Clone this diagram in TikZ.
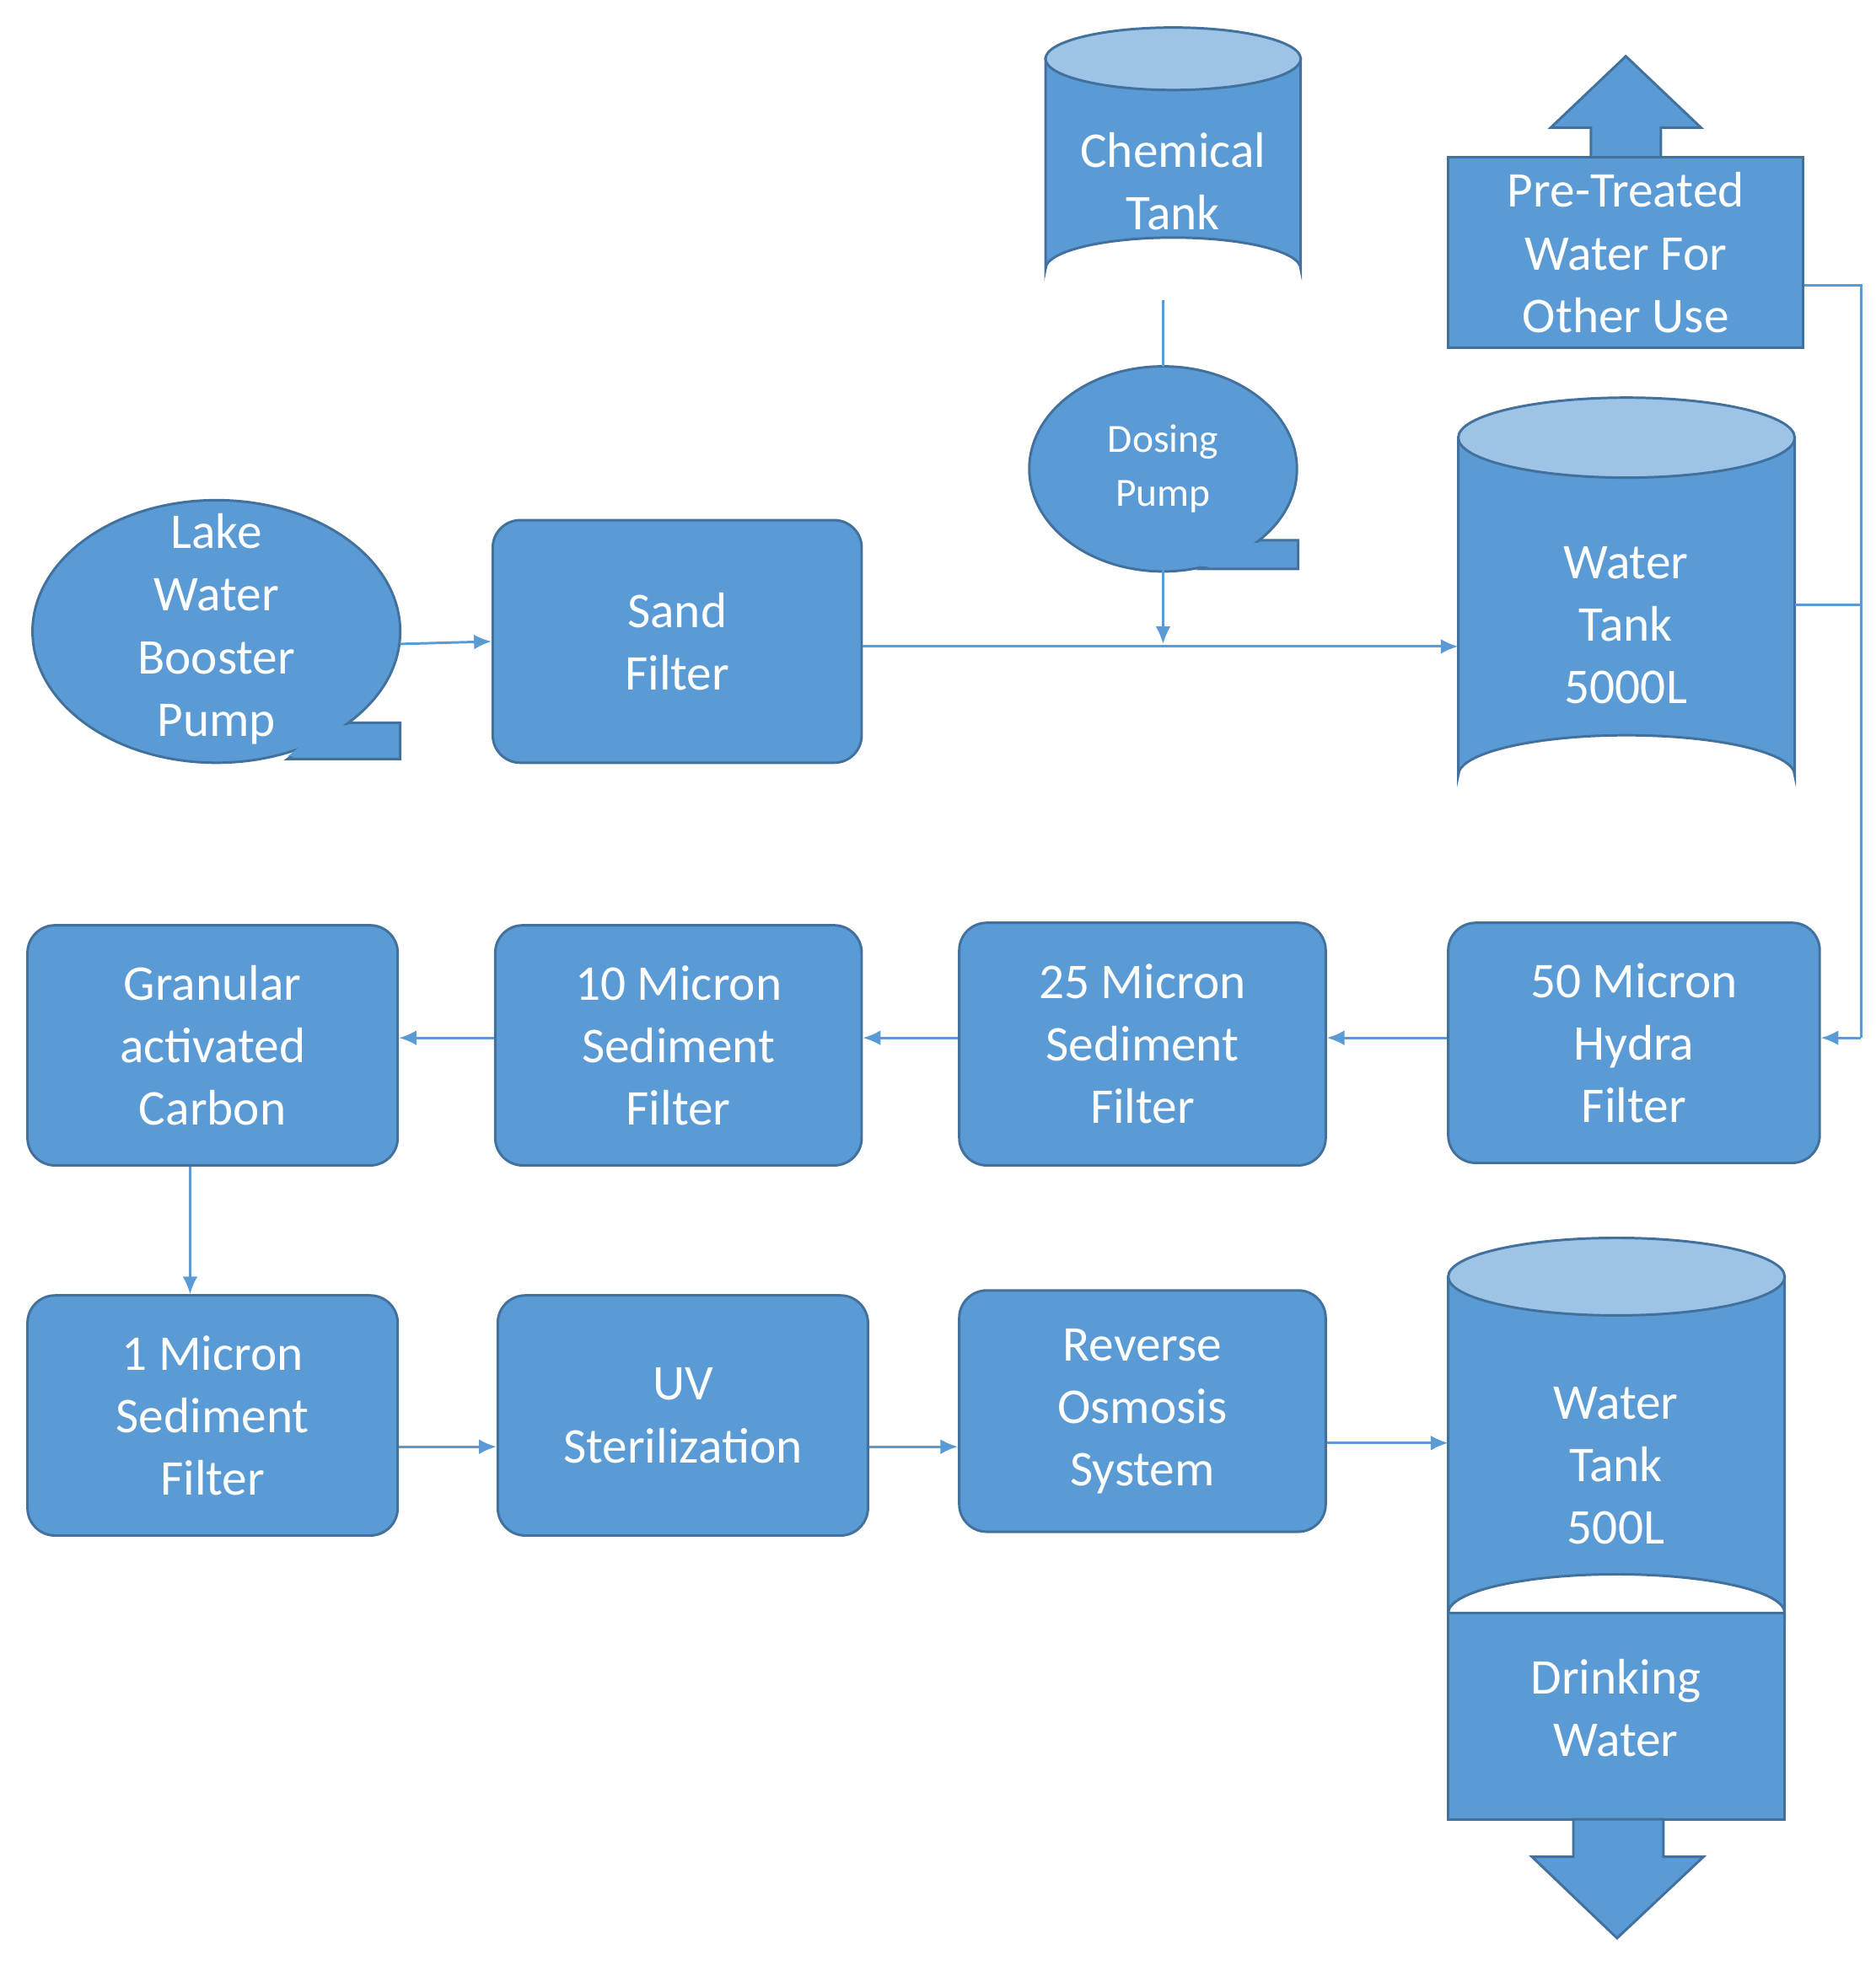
\documentclass[tikz,border=0pt]{standalone}
\usepackage{fontspec}
\setmainfont{Carlito}
\begin{document}
\begin{tikzpicture}[x=1pt,y=-1pt,
  fc/.style={fill={rgb,255:red,91;green,155;blue,213},draw={rgb,255:red,65;green,113;blue,156},line width=2pt},
  top/.style={fill={rgb,255:red,157;green,195;blue,230},draw={rgb,255:red,65;green,113;blue,156},line width=2pt},
  box/.style={fc,rounded corners=22pt,align=center,text=white,font=\fontsize{40}{50}\selectfont,inner sep=0pt},
  txt/.style={align=center,text=white,font=\fontsize{40}{50}\selectfont},
  ln/.style={draw={rgb,255:red,91;green,155;blue,213},line width=2pt},
  ar/.style={ln,-{Latex[length=14pt,width=12pt]}}]
\usetikzlibrary{arrows.meta}
\useasboundingbox (0,0) rectangle (1500,1571.5);
% Chemical tank
\path[fc] (836,47) -- (836,215) arc[start angle=180,end angle=360,x radius=102,y radius=25] -- (1040,47) -- cycle;
\path[top] (938,47) ellipse[x radius=102,y radius=25];
\node[txt] (chem) at (938,145) {Chemical\\Tank};
\coordinate (chemB) at (930,240);
% Pre-treated
\path[fc] (1272,126) -- (1272,102) -- (1240,102) -- (1300,45) -- (1360,102) -- (1328,102) -- (1328,126) -- cycle;
\node[fc,minimum width=284pt,minimum height=152pt,inner sep=0pt] (pre) at (1300,202) {};
\node[txt] at (pre) {Pre-Treated\\Water For\\Other Use};
% Water tank 5000
\path[fc] (1166,350) -- (1166,620) arc[start angle=180,end angle=360,x radius=134.5,y radius=32] -- (1435,350) -- cycle;
\path[top] (1300.5,350) ellipse[x radius=134.5,y radius=32];
\node[txt] (wt) at (1300,500) {Water\\Tank\\5000L};
\coordinate (wtL) at (1166,517);
\coordinate (wtR) at (1435,484);
% Dosing pump
\path[fc] (1000,432) -- (1038,432) -- (1038,455) -- (960,455) -- cycle;
\path[fc] (930,375) ellipse[x radius=107,y radius=82];
\path[fill={rgb,255:red,91;green,155;blue,213}] (990,434) -- (1036,434) -- (1036,453) -- (960,453) -- cycle;
\node[txt,font=\fontsize{32}{43}\selectfont] (dose) at (930,375) {Dosing\\Pump};
\coordinate (doseT) at (930,293);
\coordinate (doseB) at (930,455);
% Lake pump
\path[fc] (270,578) -- (320,578) -- (320,607) -- (230,607) -- cycle;
\path[fc] (173,505) ellipse[x radius=147,y radius=105];
\path[fill={rgb,255:red,91;green,155;blue,213}] (260,580) -- (318,580) -- (318,605) -- (230,605) -- cycle;
\node[txt] (lake) at (173,503) {Lake\\Water\\Booster\\Pump};
\coordinate (lakeR) at (320,515);
% boxes
\node[box,minimum width=295pt,minimum height=194pt] (sand) at (541.5,513) {Sand\\Filter};
\node[box,minimum width=297pt,minimum height=192pt] (f50) at (1306.5,834) {50 Micron\\Hydra\\Filter};
\node[box,minimum width=293pt,minimum height=194pt] (f25) at (913.5,835) {25 Micron\\Sediment\\Filter};
\node[box,minimum width=293pt,minimum height=192pt] (f10) at (542.5,836) {10 Micron\\Sediment\\Filter};
\node[box,minimum width=296pt,minimum height=192pt] (gac) at (170,836) {Granular\\activated\\Carbon};
\node[box,minimum width=296pt,minimum height=192pt] (f1) at (170,1132) {1 Micron\\Sediment\\Filter};
\node[box,minimum width=296pt,minimum height=192pt] (uv) at (546,1132) {UV\\Sterilization};
\node[box,minimum width=293pt,minimum height=193pt] (ro) at (913.5,1128.5) {Reverse\\Osmosis\\System};
% Water tank 500
\node[fc,minimum width=269pt,minimum height=165pt,inner sep=0pt] (dw) at (1292.5,1372.5) {};
\path[fc] (1258,1455) -- (1258,1485) -- (1225,1485) -- (1293,1550) -- (1362,1485) -- (1330,1485) -- (1330,1455) -- cycle;
\path[fc] (1158,1021) -- (1158,1290) arc[start angle=180,end angle=360,x radius=134.5,y radius=31] -- (1427,1021) -- cycle;
\path[top] (1292.5,1021) ellipse[x radius=134.5,y radius=31];
\node[txt] (wt5) at (1292,1172) {Water\\Tank\\500L};
\node[txt] at (1292,1366) {Drinking\\Water};
\coordinate (wt5L) at (1158,1154);
% connectors
\draw[ln] (chemB) -- (doseT);
\draw[ar] (doseB) -- (930,515);
\draw[ar] (lakeR) -- (sand.west);
\draw[ar] (sand.east |- wtL) -- (wtL);
\coordinate (c1) at (1488,228);
\coordinate (c2) at (1488,830);
\draw[ln] (pre.east |- c1) -- (c1) -- (c2);
\draw[ar] (c2) -- (f50.east |- c2);
\draw[ln] (wtR) -- (1488,484);
\draw[ar] (f50.west |- c2) -- (f25.east |- c2);
\draw[ar] (f25.west |- c2) -- (f10.east |- c2);
\draw[ar] (f10.west |- c2) -- (gac.east |- c2);
\draw[ar] (gac.south -| 152,0) -- (f1.north -| 152,0);
\draw[ar] (f1.east |- 0,1157) -- (uv.west |- 0,1157);
\draw[ar] (uv.east |- 0,1157) -- (ro.west |- 0,1157);
\draw[ar] (ro.east |- wt5L) -- (wt5L);
\end{tikzpicture}
\end{document}
